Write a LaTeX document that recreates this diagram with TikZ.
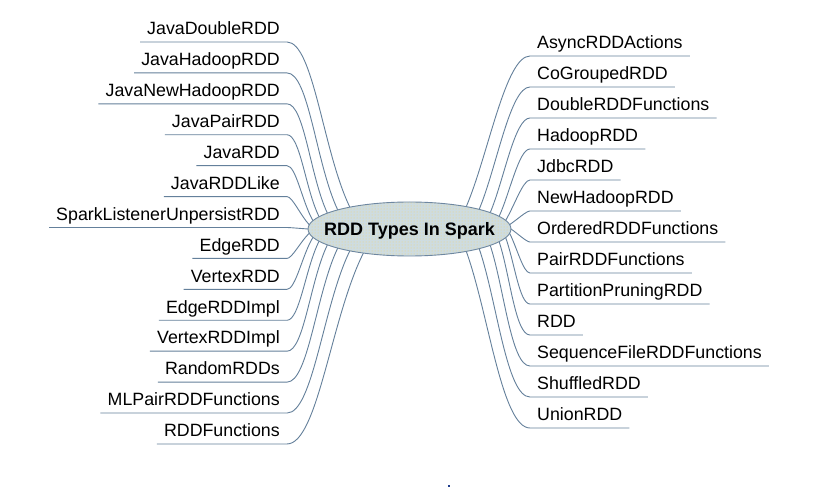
\documentclass[tikz,border=0pt]{standalone}
\usepackage{fontspec}
\setmainfont{Liberation Sans}
\usetikzlibrary{calc,patterns}
\definecolor{linec}{RGB}{100,128,155}
\definecolor{ellfill}{RGB}{206,220,224}
\definecolor{ellline}{RGB}{110,135,160}
\definecolor{elldot}{RGB}{242,212,120}
\definecolor{dotc}{RGB}{30,60,140}
\tikzset{
  lbl/.style={inner xsep=7pt, inner ysep=7pt, text depth=0pt, text height=13pt,
    font=\fontsize{17.8}{20}\selectfont},
  leftlbl/.style={lbl, anchor=south east},
  rightlbl/.style={lbl, anchor=south west},
  conn/.style={draw=linec, line width=0.9pt},
  hubfill/.style={fill=ellfill},
  hubdots/.style={pattern=dots, pattern color=elldot},
  hubline/.style={draw=ellline, line width=0.9pt},
  titlefont/.style={font=\bfseries\fontsize{18}{20}\selectfont}
}
\begin{document}
\begin{tikzpicture}[x=1pt,y=1pt]
\useasboundingbox (0,0) rectangle (815,488);
\fill[white] (0,0) rectangle (815,488);
\coordinate (C) at (409.5,259);
% left branches
\foreach \i/\txt in {0/JavaDoubleRDD,1/JavaHadoopRDD,2/JavaNewHadoopRDD,3/JavaPairRDD,4/JavaRDD,5/JavaRDDLike,6/SparkListenerUnpersistRDD,7/EdgeRDD,8/VertexRDD,9/EdgeRDDImpl,10/VertexRDDImpl,11/RandomRDDs,12/MLPairRDDFunctions,13/RDDFunctions}{
  \pgfmathsetmacro{\yy}{488-(42+30.92*\i)}
  \pgfmathsetmacro{\ang}{180-9*(6-\i)}
  \pgfmathsetmacro{\dlt}{\i<6 ? 5 : (\i>6 ? -5 : 0)}
  \node[leftlbl] (L\i) at (287,\yy) {\txt};
  \coordinate (EL\i) at ($(C)+(\ang:101.5pt and 27pt)$);
  \draw[conn] let \p1=(L\i.south east), \p2=(EL\i),
      \n1={atan2(\y1-\y2,\x1-\x2)+\dlt}, \n2={veclen(\x1-\x2,\y1-\y2)},
      \n3={0.15*\n2}, \n4={0.35*\n2} in
    (L\i.south west) -- (\p1) .. controls +(0:\n3) and +(\n1:\n4) .. (\p2);
}
% right branches
\foreach \j/\txt in {0/AsyncRDDActions,1/CoGroupedRDD,2/DoubleRDDFunctions,3/HadoopRDD,4/JdbcRDD,5/NewHadoopRDD,6/OrderedRDDFunctions,7/PairRDDFunctions,8/PartitionPruningRDD,9/RDD,10/SequenceFileRDDFunctions,11/ShuffledRDD,12/UnionRDD}{
  \pgfmathsetmacro{\yy}{488-(56+31*\j)}
  \pgfmathsetmacro{\ang}{9.33*(6-\j)}
  \node[rightlbl] (R\j) at (530,\yy) {\txt};
  \coordinate (ER\j) at ($(C)+(\ang:101.5pt and 27pt)$);
  \draw[conn] let \p1=(R\j.south west), \p2=(ER\j),
      \n1={atan2(\y1-\y2,\x1-\x2)}, \n2={veclen(\x1-\x2,\y1-\y2)},
      \n3={0.15*\n2}, \n4={0.35*\n2} in
    (\p2) .. controls +(\n1:\n4) and +(180:\n3) .. (\p1) -- (R\j.south east);
}
% hub
\fill[hubfill] (C) ellipse [x radius=101.5, y radius=27];
\fill[hubdots] (C) ellipse [x radius=101.5, y radius=27];
\draw[hubline] (C) ellipse [x radius=101.5, y radius=27];
\node[titlefont, anchor=base, inner sep=0pt] (title) at (409.5,252) {RDD Types In Spark};
% stray dot
\fill[dotc] (448,1) rectangle (450,3.5);
\end{tikzpicture}
\end{document}
